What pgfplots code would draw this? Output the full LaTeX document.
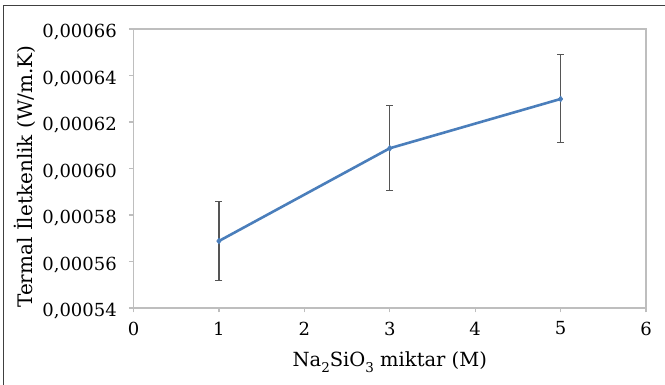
\documentclass[border=0pt]{standalone}
\usepackage{fontspec}
\setmainfont{DejaVu Serif}
\usepackage{pgfplots}
\pgfplotsset{compat=1.18}
\definecolor{lineblue}{RGB}{74,126,187}
\definecolor{framegray}{RGB}{190,190,190}
\definecolor{errgray}{RGB}{85,85,85}
\newcommand{\sub}[1]{\raisebox{-0.32em}{\fontsize{13.5}{14}\selectfont #1}}
\begin{document}
\begin{tikzpicture}[x=1pt,y=1pt]
\useasboundingbox (0,0) rectangle (665,385);
\draw[black!75, line width=1.6pt] (3.5,0) -- (3.5,379.5) -- (665,379.5);
\begin{axis}[
  at={(133.5pt,77pt)}, anchor=south west,
  scale only axis, width=512.5pt, height=279pt,
  xmin=0, xmax=6, ymin=0.00054, ymax=0.00066,
  xtick={0,1,...,6},
  ytick={0.00054,0.00056,0.00058,0.00060,0.00062,0.00064,0.00066},
  scaled y ticks=false,
  yticklabel style={/pgf/number format/fixed, /pgf/number format/fixed zerofill, /pgf/number format/precision=5, /pgf/number format/use comma},
  /pgf/number format/assume math mode=true,
  axis line style={draw=framegray, line width=1.4pt},
  tick style={draw=framegray, line width=1.2pt},
  tick align=outside, major tick length=4.5pt,
  xtick pos=bottom, ytick pos=left,
  every tick label/.append style={font=\fontsize{18}{20}\selectfont, inner sep=0pt},
  yticklabel style={anchor=east, xshift=-12pt, yshift=-3.5pt},
  xticklabel style={anchor=north, yshift=-9pt},
  xlabel={Na\sub{2}SiO\sub{3} miktar (M)},
  ylabel={Termal İletkenlik (W/m.K)},
  every axis x label/.style={at={(rel axis cs:0.5,0)}, anchor=base, yshift=-58.7pt, font=\fontsize{19.5}{22}\selectfont},
  every axis y label/.style={at={(rel axis cs:-0.2117,0.471)}, anchor=center, rotate=90, font=\fontsize{20}{22}\selectfont},
  clip=false,
]
\addplot[lineblue, line width=2.6pt, mark=diamond*, mark size=3pt, mark options={fill=lineblue, draw=lineblue, line width=0.5pt},
  error bars/.cd, y dir=both, y explicit,
  error bar style={draw=errgray, line width=1.5pt},
  error mark options={rotate=90, mark size=3.5pt, draw=errgray, line width=1.3pt}]
coordinates {
  (1,0.0005688) += (0,0.0000169) -= (0,0.0000171)
  (3,0.0006087) += (0,0.0000183) -= (0,0.0000181)
  (5,0.0006299) += (0,0.0000192) -= (0,0.0000186)
};
\end{axis}
\end{tikzpicture}
\end{document}
